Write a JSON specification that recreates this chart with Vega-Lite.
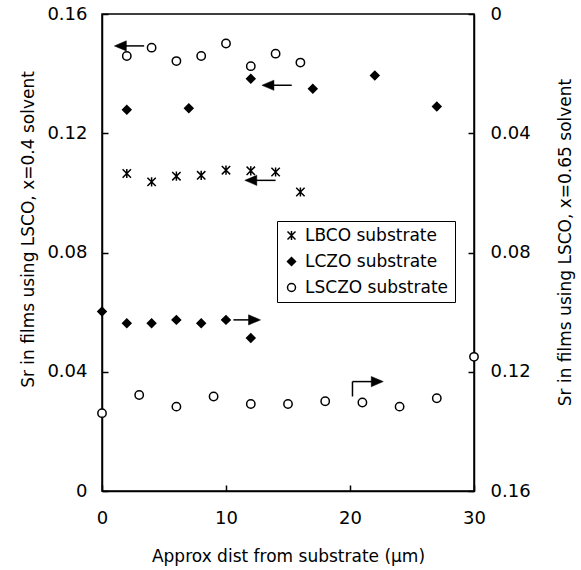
{
  "$schema": "https://vega.github.io/schema/vega-lite/v6.json",
  "width": 372,
  "height": 477,
  "autosize": "none",
  "padding": {"left": 102, "top": 14, "right": 107, "bottom": 79},
  "background": "white",
  "config": {
    "font": "DejaVu Sans",
    "view": {"stroke": "black", "strokeWidth": 1.5},
    "axis": {
      "grid": false,
      "labelFont": "DejaVu Sans",
      "labelFontSize": 18,
      "labelColor": "black",
      "labelFlush": false,
      "labelOverlap": false,
      "titleFont": "DejaVu Sans",
      "titleFontSize": 17,
      "titleFontWeight": "normal",
      "titleColor": "black",
      "domainColor": "black",
      "domainWidth": 1.5,
      "tickColor": "black",
      "tickWidth": 1.5,
      "tickSize": -6,
      "labelPadding": 21
    },
    "legend": {
      "orient": "none",
      "legendX": 175,
      "legendY": 207,
      "strokeColor": "black",
      "strokeWidth": 1,
      "fillColor": "white",
      "padding": 6,
      "labelFont": "DejaVu Sans",
      "labelFontSize": 17,
      "labelColor": "black",
      "labelOffset": 5,
      "symbolStrokeWidth": 1.5,
      "symbolSize": 64,
      "symbolOpacity": 1,
      "rowPadding": 8
    }
  },
  "datasets": {
    "pts": [
      {"series": "LBCO substrate", "axis": "left", "x": 2, "y": 0.1065},
      {"series": "LBCO substrate", "axis": "left", "x": 4, "y": 0.1037},
      {"series": "LBCO substrate", "axis": "left", "x": 6, "y": 0.1056},
      {"series": "LBCO substrate", "axis": "left", "x": 8, "y": 0.1059},
      {"series": "LBCO substrate", "axis": "left", "x": 10, "y": 0.1076},
      {"series": "LBCO substrate", "axis": "left", "x": 12, "y": 0.1074},
      {"series": "LBCO substrate", "axis": "left", "x": 14, "y": 0.107},
      {"series": "LBCO substrate", "axis": "left", "x": 16, "y": 0.1003},
      {"series": "LCZO substrate", "axis": "left", "x": 2, "y": 0.1279},
      {"series": "LCZO substrate", "axis": "left", "x": 7, "y": 0.1284},
      {"series": "LCZO substrate", "axis": "left", "x": 12, "y": 0.1383},
      {"series": "LCZO substrate", "axis": "left", "x": 17, "y": 0.1349},
      {"series": "LCZO substrate", "axis": "left", "x": 22, "y": 0.1394},
      {"series": "LCZO substrate", "axis": "left", "x": 27, "y": 0.129},
      {"series": "LSCZO substrate", "axis": "left", "x": 2, "y": 0.1459},
      {"series": "LSCZO substrate", "axis": "left", "x": 4, "y": 0.1487},
      {"series": "LSCZO substrate", "axis": "left", "x": 6, "y": 0.1442},
      {"series": "LSCZO substrate", "axis": "left", "x": 8, "y": 0.1459},
      {"series": "LSCZO substrate", "axis": "left", "x": 10, "y": 0.1501},
      {"series": "LSCZO substrate", "axis": "left", "x": 12, "y": 0.1425},
      {"series": "LSCZO substrate", "axis": "left", "x": 14, "y": 0.1467},
      {"series": "LSCZO substrate", "axis": "left", "x": 16, "y": 0.1437},
      {"series": "LCZO substrate", "axis": "right", "x": 0, "y": 0.0998},
      {"series": "LCZO substrate", "axis": "right", "x": 2, "y": 0.1037},
      {"series": "LCZO substrate", "axis": "right", "x": 4, "y": 0.1037},
      {"series": "LCZO substrate", "axis": "right", "x": 6, "y": 0.1026},
      {"series": "LCZO substrate", "axis": "right", "x": 8, "y": 0.1037},
      {"series": "LCZO substrate", "axis": "right", "x": 10, "y": 0.1026},
      {"series": "LCZO substrate", "axis": "right", "x": 12, "y": 0.1087},
      {"series": "LSCZO substrate", "axis": "right", "x": 0, "y": 0.1339},
      {"series": "LSCZO substrate", "axis": "right", "x": 3, "y": 0.1278},
      {"series": "LSCZO substrate", "axis": "right", "x": 6, "y": 0.1317},
      {"series": "LSCZO substrate", "axis": "right", "x": 9, "y": 0.1283},
      {"series": "LSCZO substrate", "axis": "right", "x": 12, "y": 0.1308},
      {"series": "LSCZO substrate", "axis": "right", "x": 15, "y": 0.1308},
      {"series": "LSCZO substrate", "axis": "right", "x": 18, "y": 0.1299},
      {"series": "LSCZO substrate", "axis": "right", "x": 21, "y": 0.1303},
      {"series": "LSCZO substrate", "axis": "right", "x": 24, "y": 0.1317},
      {"series": "LSCZO substrate", "axis": "right", "x": 27, "y": 0.1289},
      {"series": "LSCZO substrate", "axis": "right", "x": 30, "y": 0.115}
    ],
    "segs": [
      {"x": 1.5, "xe": 3.4, "y": 0.1493, "ye": 0.1493},
      {"x": 13.4, "xe": 15.3, "y": 0.1361, "ye": 0.1361},
      {"x": 12.0, "xe": 14.0, "y": 0.1042, "ye": 0.1042},
      {"x": 10.6, "xe": 12.3, "y": 0.0574, "ye": 0.0574},
      {"x": 20.2, "xe": 20.2, "y": 0.0317, "ye": 0.0367},
      {"x": 20.2, "xe": 22.2, "y": 0.0367, "ye": 0.0367}
    ],
    "heads": [
      {"dir": "left", "x": 1.48, "y": 0.1493},
      {"dir": "left", "x": 13.38, "y": 0.1361},
      {"dir": "left", "x": 12.0, "y": 0.1042},
      {"dir": "right", "x": 12.3, "y": 0.0574},
      {"dir": "right", "x": 22.2, "y": 0.0367}
    ]
  },
  "encoding": {
    "x": {
      "field": "x",
      "type": "quantitative",
      "scale": {"domain": [0, 30], "nice": false, "zero": false},
      "axis": {
        "values": [0, 10, 20, 30],
        "title": "Approx dist from substrate (μm)",
        "labelPadding": 24,
        "titleX": 186,
        "titleY": 65,
        "titleBaseline": "middle",
        "titleAlign": "center"
      }
    }
  },
  "layer": [
    {
      "encoding": {
        "y": {
          "field": "y",
          "type": "quantitative",
          "scale": {"domain": [0, 0.16], "nice": false, "zero": false},
          "axis": {
            "values": [0, 0.04, 0.08, 0.12, 0.16],
            "format": "~g",
            "title": "Sr in films using LSCO, x=0.4 solvent",
            "titleX": -74,
            "titleY": 215,
            "titleAngle": -90,
            "titleAlign": "center",
            "titleBaseline": "middle"
          }
        }
      },
      "layer": [
        {
          "data": {"name": "pts"},
          "transform": [{"filter": "datum.axis == 'left'"}],
          "mark": {"type": "point", "filled": true, "strokeWidth": 1.5, "size": 70, "opacity": 1},
          "encoding": {
            "shape": {
              "field": "series",
              "type": "nominal",
              "scale": {
                "domain": ["LBCO substrate", "LCZO substrate", "LSCZO substrate"],
                "range": ["M-1,-1L1,1M-1,1L1,-1M0,-1.1L0,1.1", "diamond", "circle"]
              },
              "legend": {"title": null}
            },
            "fill": {
              "field": "series",
              "type": "nominal",
              "scale": {
                "domain": ["LBCO substrate", "LCZO substrate", "LSCZO substrate"],
                "range": ["transparent", "black", "white"]
              },
              "legend": {"title": null}
            },
            "stroke": {
              "field": "series",
              "type": "nominal",
              "scale": {
                "domain": ["LBCO substrate", "LCZO substrate", "LSCZO substrate"],
                "range": ["black", "black", "black"]
              },
              "legend": {"title": null}
            }
          }
        },
        {
          "data": {"name": "segs"},
          "mark": {"type": "rule", "color": "black", "strokeWidth": 1.5},
          "encoding": {
            "x2": {"field": "xe"},
            "y2": {"field": "ye"}
          }
        },
        {
          "data": {"name": "heads"},
          "transform": [{"filter": "datum.dir == 'left'"}],
          "mark": {"type": "point", "shape": "M-1,0L1,-0.85L1,0.85Z", "filled": true, "fill": "black", "stroke": "black", "strokeWidth": 0.5, "size": 144, "opacity": 1},
          "encoding": {}
        },
        {
          "data": {"name": "heads"},
          "transform": [{"filter": "datum.dir == 'right'"}],
          "mark": {"type": "point", "shape": "M1,0L-1,-0.85L-1,0.85Z", "filled": true, "fill": "black", "stroke": "black", "strokeWidth": 0.5, "size": 144, "opacity": 1},
          "encoding": {}
        }
      ]
    },
    {
      "data": {"name": "pts"},
      "transform": [{"filter": "datum.axis == 'right'"}],
      "mark": {"type": "point", "filled": true, "strokeWidth": 1.5, "size": 70, "opacity": 1},
      "encoding": {
        "y": {
          "field": "y",
          "type": "quantitative",
          "scale": {"domain": [0, 0.16], "nice": false, "zero": false, "reverse": true},
          "axis": {
            "orient": "right",
            "values": [0, 0.04, 0.08, 0.12, 0.16],
            "format": "~g",
            "labelPadding": 22,
            "title": "Sr in films using LSCO, x=0.65 solvent",
            "titleX": 91,
            "titleY": 228,
            "titleAngle": -90,
            "titleAlign": "center",
            "titleBaseline": "middle"
          }
        },
        "shape": {
          "field": "series",
          "type": "nominal",
          "scale": {
            "domain": ["LBCO substrate", "LCZO substrate", "LSCZO substrate"],
            "range": ["M-1,-1L1,1M-1,1L1,-1M0,-1.1L0,1.1", "diamond", "circle"]
          },
          "legend": {"title": null}
        },
        "fill": {
          "field": "series",
          "type": "nominal",
          "scale": {
            "domain": ["LBCO substrate", "LCZO substrate", "LSCZO substrate"],
            "range": ["transparent", "black", "white"]
          },
          "legend": {"title": null}
        },
        "stroke": {
          "field": "series",
          "type": "nominal",
          "scale": {
            "domain": ["LBCO substrate", "LCZO substrate", "LSCZO substrate"],
            "range": ["black", "black", "black"]
          },
          "legend": {"title": null}
        }
      }
    }
  ],
  "resolve": {"scale": {"y": "independent"}}
}
